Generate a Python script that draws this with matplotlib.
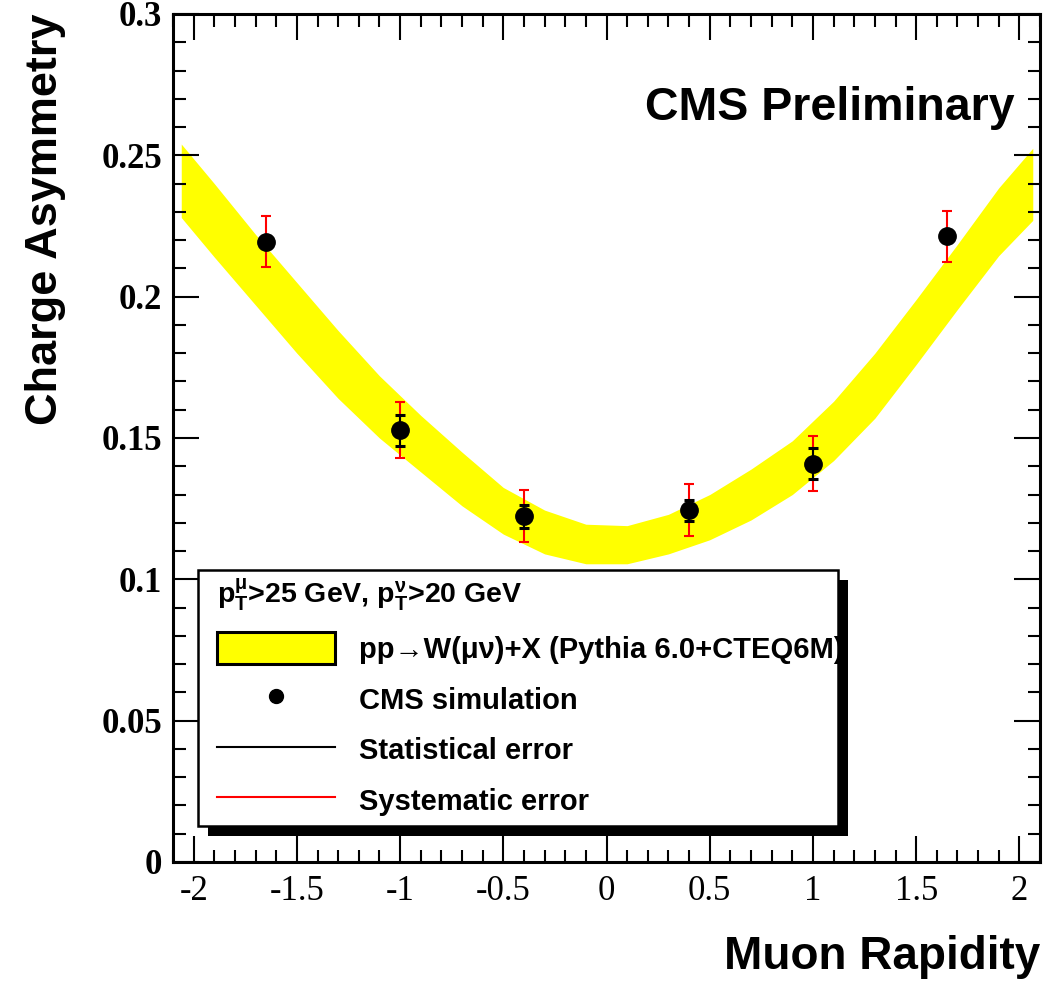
import numpy as np
import matplotlib
matplotlib.use("Agg")
import matplotlib.pyplot as plt
from matplotlib.patches import Rectangle, Patch
from matplotlib.lines import Line2D
from matplotlib.ticker import MultipleLocator

plt.rcParams['mathtext.default'] = 'regular'

# data points (CMS simulation)
rapidity = [-1.65, -1.0, -0.4, 0.4, 1.0, 1.65]
asym = [0.2195, 0.1527, 0.1223, 0.1244, 0.1409, 0.2214]
stat_err = [0.002, 0.0055, 0.004, 0.0037, 0.0055, 0.002]
syst_err = [0.009, 0.0099, 0.0092, 0.0092, 0.0097, 0.009]

# Pythia prediction band (upper / lower edge)
band_x = [-2.06, -1.9, -1.7, -1.5, -1.3, -1.1, -0.9, -0.7, -0.5, -0.3, -0.1,
          0.1, 0.3, 0.5, 0.7, 0.9, 1.1, 1.3, 1.5, 1.7, 1.9, 2.065]
band_upper = [0.254, 0.240, 0.222, 0.205, 0.188, 0.172, 0.158, 0.145, 0.1325, 0.1245, 0.1195,
              0.119, 0.123, 0.130, 0.139, 0.149, 0.163, 0.180, 0.199, 0.2185, 0.2385, 0.2525]
band_lower = [0.228, 0.214, 0.197, 0.180, 0.164, 0.150, 0.138, 0.126, 0.116, 0.109, 0.1055,
              0.1055, 0.109, 0.114, 0.121, 0.130, 0.142, 0.157, 0.176, 0.1955, 0.2145, 0.227]

xticks = [-2, -1.5, -1, -0.5, 0, 0.5, 1, 1.5, 2]
xticklabels = ['-2', '-1.5', '-1', '-0.5', '0', '0.5', '1', '1.5', '2']
yticks = [0, 0.05, 0.1, 0.15, 0.2, 0.25, 0.3]
yticklabels = ['0', '0.05', '0.1', '0.15', '0.2', '0.25', '0.3']

sans = ['Liberation Sans', 'DejaVu Sans']
serif = ['Liberation Serif', 'DejaVu Serif']

W, H = 1050, 983
fig = plt.figure(figsize=(W / 100, H / 100), dpi=100)
ax = fig.add_axes([173 / W, 1 - 862 / H, 867 / W, 848 / H])


def axfrac(x, y):
    # pixel position -> axes fraction
    return (x - 173) / 867, (862 - y) / 848


ax.fill_between(band_x, band_lower, band_upper, color='#ffff00', lw=0, zorder=1)
ax.errorbar(rapidity, asym, yerr=syst_err, fmt='none', ecolor='red',
            elinewidth=1.5, capsize=3.5, capthick=1.5, zorder=2)
ax.errorbar(rapidity, asym, yerr=stat_err, fmt='o', color='black', ms=12.5,
            elinewidth=1.5, capsize=3.5, capthick=2.2, zorder=3)

ax.set_xlim(-2.1, 2.1)
ax.set_ylim(0, 0.3)
ax.set_xticks(xticks)
ax.set_xticklabels(xticklabels, family=serif, fontsize=25)
ax.set_yticks(yticks)
ax.set_yticklabels(yticklabels, family=serif, fontsize=25, fontweight='bold')
ax.xaxis.set_minor_locator(MultipleLocator(0.1))
ax.yaxis.set_minor_locator(MultipleLocator(0.01))
ax.tick_params(which='both', direction='in', top=True, right=True, width=1.5)
ax.tick_params(which='major', length=19)
ax.tick_params(which='minor', length=9)
ax.tick_params(axis='x', pad=9)
ax.tick_params(axis='y', pad=8)
for s in ax.spines.values():
    s.set_linewidth(2.2)

ax.set_xlabel('Muon Rapidity', loc='right', family=sans, fontweight='bold', fontsize=33)
ax.xaxis.set_label_coords(1.0, axfrac(0, 935)[1])
ax.set_ylabel('Charge Asymmetry', loc='top', family=sans, fontweight='bold', fontsize=32.5)
ax.yaxis.set_label_coords(axfrac(66, 0)[0], 1.0)

ax.text(*axfrac(1015, 120), 'CMS Preliminary', transform=ax.transAxes,
        ha='right', va='baseline', family=sans, fontweight='bold', fontsize=33.5)

# legend frame with ROOT-like shadow
x0, y0 = axfrac(198, 826)
x1, y1 = axfrac(838, 570)
dx, dy = 10 / 867, 10 / 848
ax.add_patch(Rectangle((x0 + dx, y0 - dy), x1 - x0, y1 - y0, transform=ax.transAxes,
                       facecolor='black', edgecolor='none', zorder=6))
ax.add_patch(Rectangle((x0, y0), x1 - x0, y1 - y0, transform=ax.transAxes,
                       facecolor='white', edgecolor='black', lw=1.8, zorder=7))

handles = [Patch(facecolor='#ffff00', edgecolor='black', linewidth=2.2),
           Line2D([], [], marker='o', ls='none', color='black', ms=10),
           Line2D([], [], color='black', lw=1.5),
           Line2D([], [], color='red', lw=1.5)]
labels = ['pp→W(μν)+X (Pythia 6.0+CTEQ6M)', 'CMS simulation',
          'Statistical error', 'Systematic error']
leg = ax.legend(handles, labels, title='p$_T^μ$>25 GeV, p$_T^ν$>20 GeV',
                loc='upper left', bbox_to_anchor=axfrac(202, 562), borderaxespad=0,
                frameon=False, prop=dict(family=sans, weight='bold', size=21),
                title_fontproperties=dict(family=sans, weight='bold', size=20.5),
                alignment='left', handlelength=4.07, handleheight=1.28,
                handletextpad=0.8, labelspacing=0.66, borderpad=0.5)
leg.set_zorder(8)

fig.savefig('out.png', dpi=100)
